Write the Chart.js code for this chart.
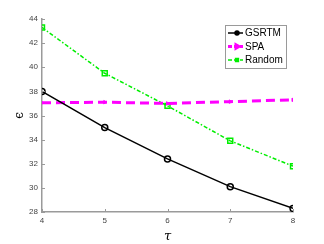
<!DOCTYPE html>
<html>
<head>
<meta charset="utf-8">
<script src="https://cdn.jsdelivr.net/npm/chart.js@4.4.0/dist/chart.umd.min.js"></script>
<style>
  html, body { margin: 0; padding: 0; background: #fff; }
  #wrap { width: 324px; height: 244px; }
</style>
</head>
<body>
<div id="wrap"><canvas id="c" width="324" height="244"></canvas></div>
<script>
// tau values and epsilon per method
const tau = [4, 5, 6, 7, 8];
const gsrtm = [38.0, 35.0, 32.4, 30.1, 28.3];
const spa = [37.05, 37.1, 37.0, 37.15, 37.3];
const random = [43.3, 39.5, 36.8, 33.9, 31.8];
const yTicks = [28, 30, 32, 34, 36, 38, 40, 42, 44];

const pts = ys => tau.map((x, i) => ({ x, y: ys[i] }));

// small inward tick marks, like the matlab style axes
const inwardTicks = {
    id: 'inwardTicks',
    afterDatasetsDraw(chart) {
        const { ctx, chartArea: a, scales: { x, y } } = chart;
        ctx.save();
        ctx.strokeStyle = '#9a9a9a';
        ctx.lineWidth = 1;
        ctx.beginPath();
        x.ticks.forEach(t => {
            const px = Math.round(x.getPixelForValue(t.value)) + 0.5;
            ctx.moveTo(px, a.bottom); ctx.lineTo(px, a.bottom - 3);
        });
        y.ticks.forEach(t => {
            const py = Math.round(y.getPixelForValue(t.value)) + 0.5;
            ctx.moveTo(a.left, py); ctx.lineTo(a.left + 3, py);
        });
        ctx.stroke();
        ctx.restore();
    }
};

// boxed legend with line sample + marker
const boxLegend = {
    id: 'boxLegend',
    afterDraw(chart) {
        const ctx = chart.ctx;
        const x0 = 225, y0 = 25, w = 61, h = 43;
        ctx.save();
        ctx.fillStyle = '#fff';
        ctx.fillRect(x0, y0, w, h);
        ctx.strokeStyle = '#9a9a9a';
        ctx.lineWidth = 1;
        ctx.strokeRect(x0 + 0.5, y0 + 0.5, w, h);
        ctx.font = '10px "Liberation Sans", Arial, sans-serif';
        ctx.textBaseline = 'middle';
        chart.data.datasets.forEach((ds, i) => {
            const cy = y0 + 8 + i * 13.5;
            ctx.strokeStyle = ds.borderColor;
            ctx.lineWidth = ds.borderWidth;
            ctx.setLineDash(ds.borderDash ? [4, 2] : []);
            ctx.beginPath();
            ctx.moveTo(x0 + 3, cy); ctx.lineTo(x0 + 18, cy);
            ctx.stroke();
            ctx.setLineDash([]);
            ctx.fillStyle = ds.borderColor;
            Chart.helpers.drawPoint(ctx, {
                pointStyle: ds.pointStyle,
                radius: 2,
                rotation: ds.pointRotation || 0,
                borderWidth: 1
            }, x0 + 12, cy);
            ctx.fill();
            ctx.fillStyle = '#000';
            ctx.fillText(ds.label, x0 + 20, cy + 0.5);
        });
        ctx.restore();
    }
};

new Chart(document.getElementById('c'), {
    type: 'line',
    data: {
        datasets: [
            {
                label: 'GSRTM',
                data: pts(gsrtm),
                borderColor: '#000',
                borderWidth: 1.5,
                pointStyle: 'circle',
                pointRadius: 3,
                pointBorderWidth: 1.5,
                pointBorderColor: '#000',
                pointBackgroundColor: 'rgba(0,0,0,0)'
            },
            {
                label: 'SPA',
                data: pts(spa),
                borderColor: '#ff00ff',
                borderWidth: 3,
                borderDash: [9, 5],
                pointStyle: 'triangle',
                pointRotation: 90,
                pointRadius: 2,
                pointBorderWidth: 1,
                pointBorderColor: '#ff00ff',
                pointBackgroundColor: '#ff00ff'
            },
            {
                label: 'Random',
                data: pts(random),
                borderColor: '#00ee00',
                borderWidth: 1.5,
                borderDash: [4, 2, 1.5, 2],
                pointStyle: 'rect',
                pointRadius: 3.5,
                pointBorderWidth: 1.5,
                pointBorderColor: '#00ee00',
                pointBackgroundColor: 'rgba(0,0,0,0)'
            }
        ]
    },
    options: {
        responsive: false,
        animation: false,
        events: [],
        layout: { padding: { left: 13, right: 31, top: 19, bottom: 0 } },
        plugins: { legend: { display: false }, tooltip: { enabled: false } },
        scales: {
            x: {
                type: 'linear',
                min: 4, max: 8,
                afterFit(s) { s.height = 32; },
                grid: { display: false, drawTicks: false },
                border: { display: true, color: '#9a9a9a', width: 1.5 },
                ticks: {
                    stepSize: 1, padding: 4, color: '#444',
                    font: { size: 8, family: '"Liberation Sans", Arial, sans-serif' }
                },
                title: {
                    display: true, text: 'τ', color: '#000', padding: { top: 4, bottom: 0 },
                    font: { size: 13, style: 'italic', family: '"DejaVu Serif", serif' }
                }
            },
            y: {
                min: 28, max: 44,
                afterFit(s) { s.width = 29; },
                afterBuildTicks(s) { s.ticks = yTicks.map(v => ({ value: v })); },
                grid: { display: false, drawTicks: false },
                border: { display: true, color: '#9a9a9a', width: 1.5 },
                ticks: {
                    padding: 4, color: '#444',
                    font: { size: 8, family: '"Liberation Sans", Arial, sans-serif' }
                },
                title: {
                    display: true, text: 'ϵ', color: '#000', padding: { top: 0, bottom: 2 },
                    font: { size: 12, family: '"DejaVu Serif", serif' }
                }
            }
        }
    },
    plugins: [inwardTicks, boxLegend]
});
</script>
</body>
</html>
